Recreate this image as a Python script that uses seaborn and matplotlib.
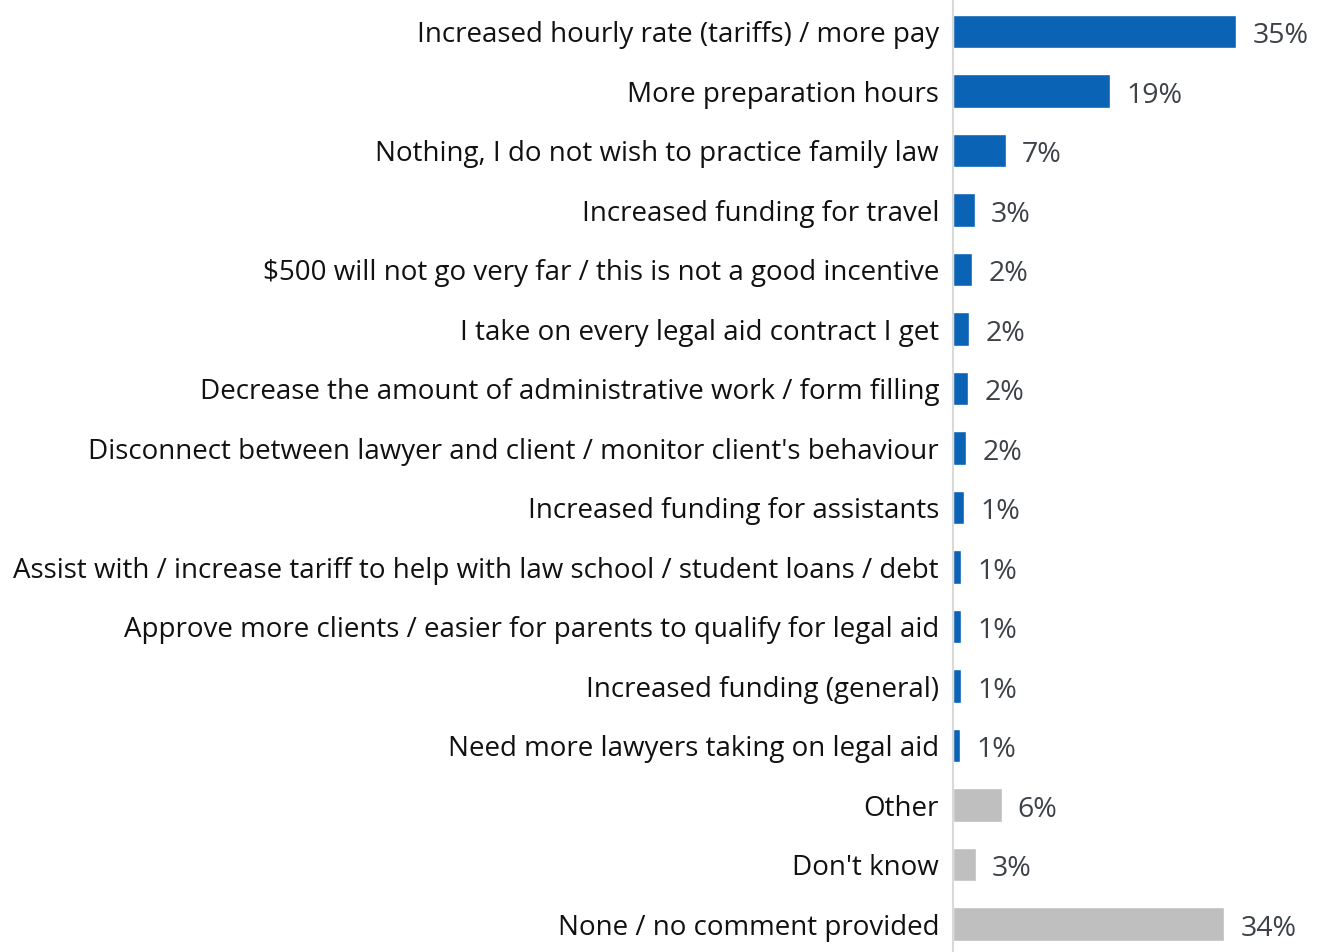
import pandas as pd
import seaborn as sns
import matplotlib.pyplot as plt

# Survey responses (share of respondents)
categories = [
    "Increased hourly rate (tariffs) / more pay",
    "More preparation hours",
    "Nothing, I do not wish to practice family law",
    "Increased funding for travel",
    "$500 will not go very far / this is not a good incentive",
    "I take on every legal aid contract I get",
    "Decrease the amount of administrative work / form filling",
    "Disconnect between lawyer and client / monitor client's behaviour",
    "Increased funding for assistants",
    "Assist with / increase tariff to help with law school / student loans / debt",
    "Approve more clients / easier for parents to qualify for legal aid",
    "Increased funding (general)",
    "Need more lawyers taking on legal aid",
    "Other",
    "Don't know",
    "None / no comment provided",
]
values = [35.0, 19.4, 6.5, 2.7, 2.35, 2.0, 1.85, 1.6, 1.4, 1.0, 1.0, 1.0, 0.9, 6.0, 2.8, 33.5]
value_labels = ["35%", "19%", "7%", "3%", "2%", "2%", "2%", "2%", "1%", "1%",
                "1%", "1%", "1%", "6%", "3%", "34%"]
groups = ["answer"] * 13 + ["other"] * 3

df = pd.DataFrame({"category": categories, "value": values, "group": groups})

sns.set_style("white")
plt.rcParams['font.family'] = ['Open Sans', 'DejaVu Sans']

fig = plt.figure(figsize=(13.19, 9.52), dpi=100)
ax = fig.add_axes([0.7225, 0.0, 0.2775, 1.0])

sns.barplot(
    data=df, y="category", x="value", hue="group",
    palette={"answer": "#0B63B5", "other": "#BFBFBF"},
    saturation=1, width=0.57, dodge=False, legend=False, ax=ax, orient="h",
)

# Percentage labels next to bars
for i, (v, lab) in enumerate(zip(values, value_labels)):
    ax.text(v + 2.0, i + 0.08, lab, va="center", ha="left",
            fontsize=20.5, color="#3D4248")

ax.set_xlim(0, 45.2)
ax.set_ylim(15.47, -0.53)
ax.set_xlabel("")
ax.set_ylabel("")
ax.set_xticks([])
ax.tick_params(axis="y", length=0, pad=10, labelsize=20, labelcolor="#111111")

for side in ["top", "right", "bottom"]:
    ax.spines[side].set_visible(False)
ax.spines["left"].set_color("#D9D9D9")
ax.spines["left"].set_linewidth(1.5)

fig.savefig("out.png", dpi=100)
